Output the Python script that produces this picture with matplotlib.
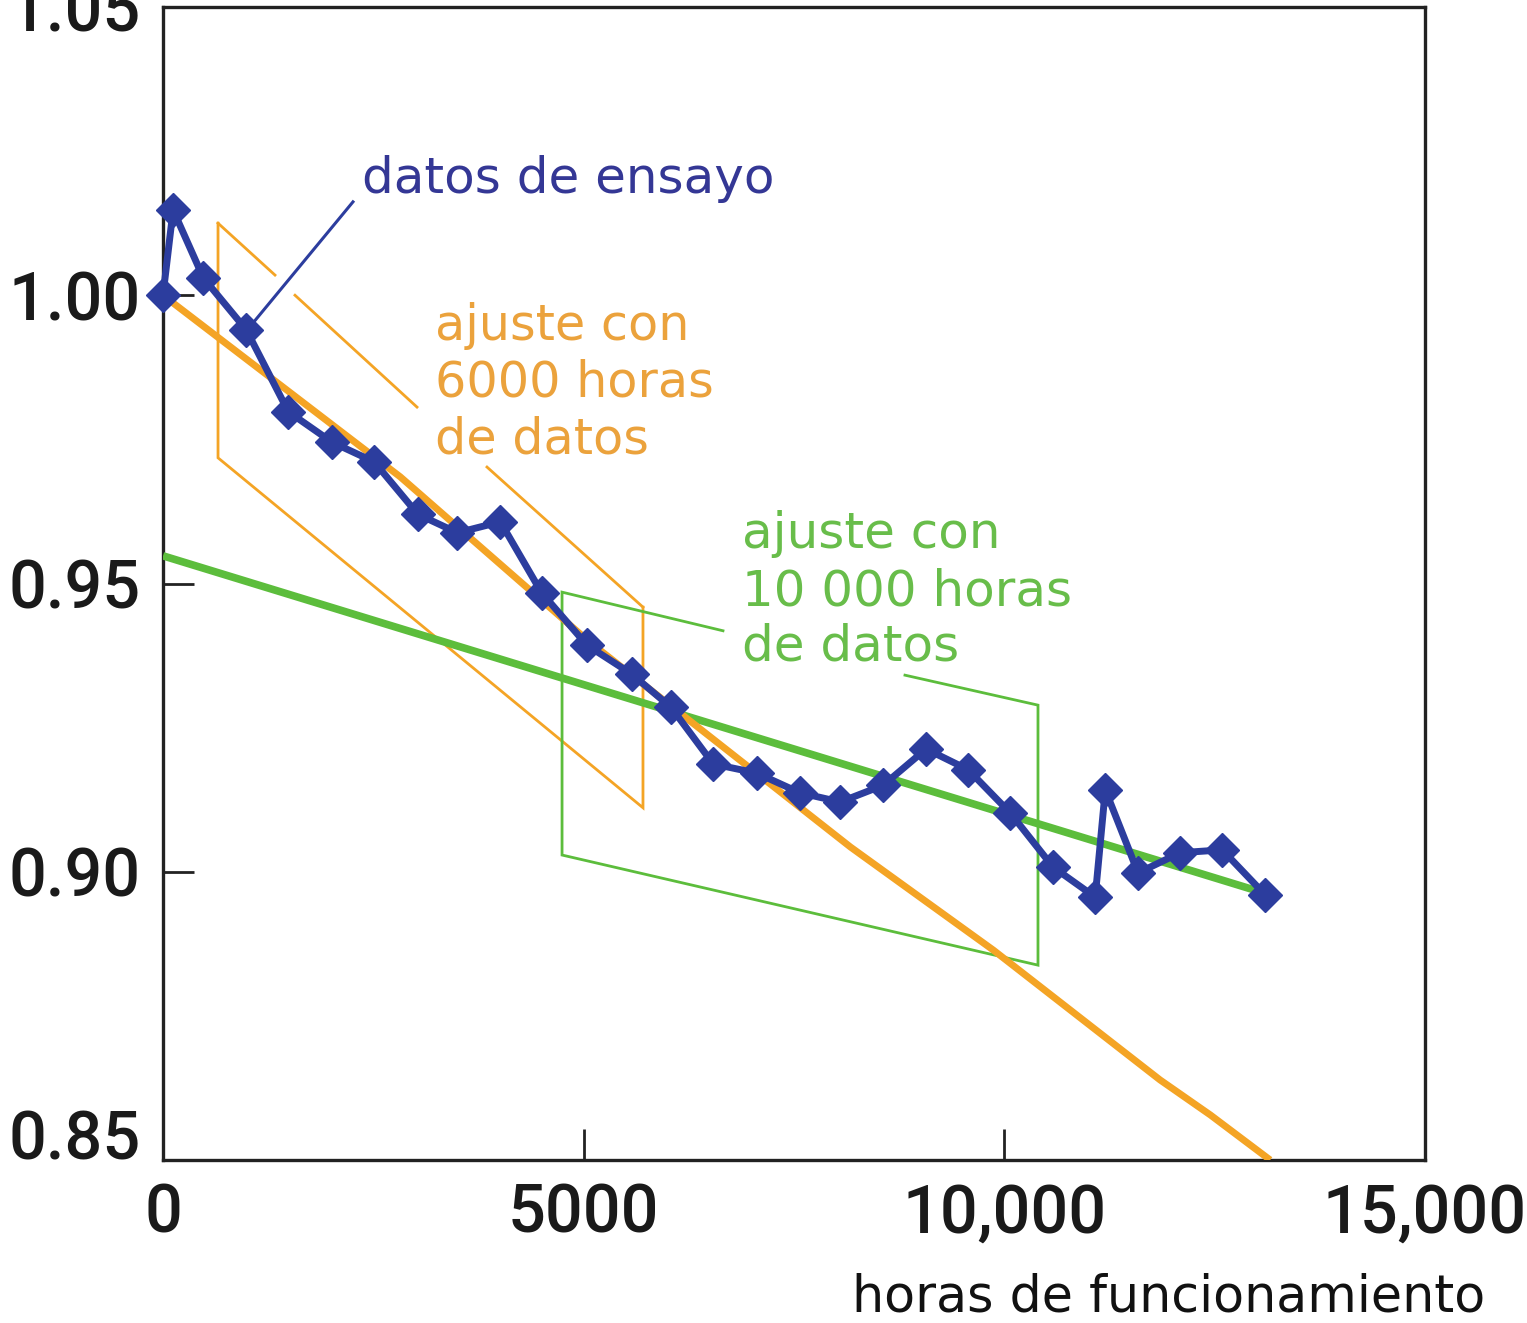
import matplotlib
matplotlib.use("Agg")
import matplotlib.pyplot as plt

# ---------------- data ----------------
hours = [0, 120, 480, 990, 1490, 2010, 2510, 3030, 3500, 4010, 4500, 5040, 5570,
         6040, 6540, 7060, 7570, 8050, 8560, 9070, 9570, 10070, 10580, 11080,
         11200, 11590, 12090, 12590, 13100]
rel_output = [1.000, 1.0148, 1.0030, 0.9940, 0.9798, 0.9745, 0.9711, 0.9620,
              0.9588, 0.9607, 0.9484, 0.9393, 0.9343, 0.9285, 0.9187, 0.9171,
              0.9137, 0.9121, 0.9150, 0.9213, 0.9177, 0.9102, 0.9008, 0.8956,
              0.9142, 0.8998, 0.9033, 0.9038, 0.8960]

fit6000_x = [0, 2820, 5040, 8170, 9870, 11850, 12450, 13160]
fit6000_y = [1.000, 0.9685, 0.9402, 0.9043, 0.8864, 0.8639, 0.8578, 0.8500]

fit10000_x = [0, 12980]
fit10000_y = [0.9548, 0.8968]

x_ticks = [0, 5000, 10000, 15000]
x_tick_labels = ["0", "5000", "10,000", "15,000"]
y_ticks = [0.85, 0.90, 0.95, 1.00, 1.05]
y_tick_labels = ["0.85", "0.90", "0.95", "1.00", "1.05"]

label_data = "datos de ensayo"
label_fit6 = ["ajuste con", "6000 horas", "de datos"]
label_fit10 = ["ajuste con", "10 000 horas", "de datos"]
x_title = "horas de funcionamiento"

# ---------------- style ----------------
BLUE = "#2c3d9e"
BLUE_TXT = "#343795"
ORANGE = "#f4a425"
ORANGE_TXT = "#eba23c"
GREEN = "#5cbd3c"
GREEN_TXT = "#68bd4a"
DARK = "#222222"

W, H = 1527, 1323
fig = plt.figure(figsize=(W / 100, H / 100), dpi=100)
ax = fig.add_axes([163 / W, 1 - 1160 / H, 1262 / W, 1153 / H])
ax.set_xlim(0, 15000)
ax.set_ylim(0.85, 1.05)

# annotation brackets (data coordinates)
orange_box = [
    ([654, 654, 5705, 5705], [1.0125, 0.9718, 0.9111, 0.9459]),
    ([5705, 3851], [0.9459, 0.9702]),
    ([3019, 1569], [0.9806, 1.0000]),
    ([1331, 654], [1.0035, 1.0125]),
]
for xs, ys in orange_box:
    ax.plot(xs, ys, color=ORANGE, lw=2.0, solid_joinstyle="miter", zorder=2)

green_box = [
    ([6656, 4743, 4743, 10400, 10400, 8819],
     [0.9418, 0.9485, 0.9029, 0.8838, 0.9289, 0.9341]),
]
for xs, ys in green_box:
    ax.plot(xs, ys, color=GREEN, lw=2.0, solid_joinstyle="miter", zorder=2)

# leader line for test data
ax.plot([1070, 2258], [0.9952, 1.0162], color=BLUE, lw=2.2, zorder=2)

# fit lines
ax.plot(fit10000_x, fit10000_y, color=GREEN, lw=5.5, solid_capstyle="butt", zorder=3)
ax.plot(fit6000_x, fit6000_y, color=ORANGE, lw=5.0, solid_capstyle="butt", zorder=4)

# test data
ax.plot(hours, rel_output, color=BLUE, lw=5.0, marker="D", ms=17,
        mfc=BLUE, mec=BLUE, zorder=5, clip_on=False)

# labels
ax.text(2365, 1.0177, label_data, color=BLUE_TXT, fontsize=36,
        family="DejaVu Sans", ha="left", va="baseline")
for line, yb in zip(label_fit6, [0.99224, 0.98236, 0.97247]):
    ax.text(3233, yb, line, color=ORANGE_TXT, fontsize=35.5,
            family="DejaVu Sans", ha="left", va="baseline")
for line, yb in zip(label_fit10, [0.95616, 0.94627, 0.93656]):
    ax.text(6882, yb, line, color=GREEN_TXT, fontsize=36,
            family="DejaVu Sans", ha="left", va="baseline")

# axes styling
for s in ax.spines.values():
    s.set_linewidth(2.4)
    s.set_color(DARK)
ax.set_xticks(x_ticks)
ax.set_xticklabels(x_tick_labels)
ax.set_yticks(y_ticks)
ax.set_yticklabels(y_tick_labels)
ax.tick_params(direction="in", length=22, width=2, color=DARK,
               labelsize=48, labelcolor="#1a1a1a")
ax.tick_params(axis="x", pad=16)
ax.tick_params(axis="y", pad=16)
for lab in ax.get_xticklabels() + ax.get_yticklabels():
    lab.set_family(["Roboto", "DejaVu Sans"])
    lab.set_fontweight("medium")
ax.get_yticklabels()[0].set_verticalalignment("baseline")

fig.text(1485 / W, 1 - 1312 / H, x_title, color="#111111", fontsize=36.5,
         family="DejaVu Sans", ha="right", va="baseline")

fig.savefig("out.png", dpi=100, facecolor="white")
